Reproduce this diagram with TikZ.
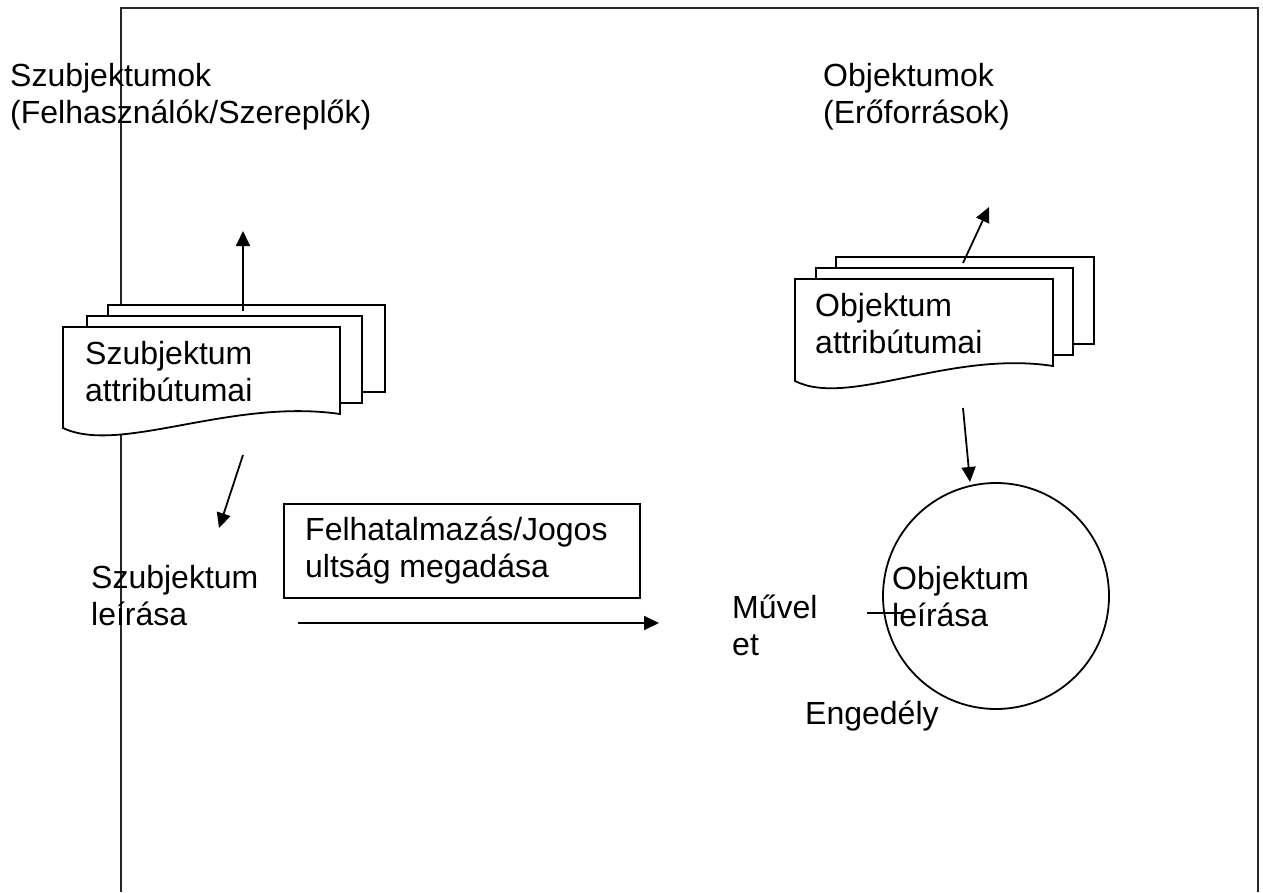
\documentclass[tikz,border=0pt]{standalone}
\usepackage{fontspec}
\setmainfont{Liberation Sans}
\usetikzlibrary{arrows.meta}
\begin{document}
\begin{tikzpicture}[x=1pt,y=-1pt,
  % two-line labels are placed by the baseline of their last line
  lbl/.style={inner sep=0pt, anchor=base west, align=left, font=\fontsize{32}{37}\selectfont},
  line/.style={line width=1.8pt, black},
  flow/.style={line, -{Triangle[length=15pt,width=14pt]}},
  page/.style={line, fill=white},
  frameline/.style={line width=1.9pt, black!85},
]
\useasboundingbox (0,0) rectangle (1263,892);

% open frame around the drawing area
\draw[frameline] (121,892) -- (121,8) -- (1258,8) -- (1258,892);

% column headings
\node[lbl] (subjTitle) at (10,123) {Szubjektumok\\(Felhasználók/Szereplők)};
\node[lbl] (objTitle) at (823,123) {Objektumok\\(Erőforrások)};

% stacked documents: subject attributes
\draw[page] (108,305) rectangle (385,392);
\draw[page] (87,316) rectangle (362,403);
\draw[page] (63,327) -- (340,327) -- (340,414)
  .. controls (230,398) and (120,455) .. (63,428) -- cycle;
\node[lbl] (subjAttr) at (85,401) {Szubjektum\\attribútumai};

% stacked documents: object attributes
\draw[page] (836,257) rectangle (1094,344);
\draw[page] (816,268) rectangle (1073,355);
\draw[page] (795,279) -- (1053,279) -- (1053,366)
  .. controls (950,350) and (848,408) .. (795,381) -- cycle;
\node[lbl] (objAttr) at (815,353) {Objektum\\attribútumai};

% arrow end points
\coordinate (subjUpFrom) at (243,311);
\coordinate (subjUpTo) at (243,231);
\coordinate (objUpFrom) at (963,263);
\coordinate (objUpTo) at (989,207);
\coordinate (subjDownFrom) at (243,455);
\coordinate (subjDownTo) at (219,528);
\coordinate (objDownFrom) at (963,408);
\coordinate (objDownTo) at (970,482);
\coordinate (grantFrom) at (298,623);
\coordinate (grantTo) at (659,623);
\coordinate (opFrom) at (867,613);
\coordinate (opTo) at (903,613);

\draw[flow] (subjUpFrom) -- (subjUpTo);
\draw[flow] (objUpFrom) -- (objUpTo);
\draw[flow] (subjDownFrom) -- (subjDownTo);
\draw[flow] (objDownFrom) -- (objDownTo);

% subject description
\node[lbl] (subjDesc) at (91,625) {Szubjektum\\leírása};

% authorisation box and arrow
\node[draw, line, anchor=north west, minimum width=356pt, minimum height=94pt, inner sep=0pt] (authBox) at (283,503) {};
\node[lbl] (authText) at (305,577) {Felhatalmazás/Jogos\\ultság megadása};
\draw[flow] (grantFrom) -- (grantTo);

% object description circle
\node[draw, line, circle, minimum size=226pt, inner sep=0pt] (objCircle) at (996,596) {};
\node[lbl] (objDesc) at (892,626) {Objektum\\leírása};
\node[lbl] (opText) at (732,655) {Művel\\et};
\draw[line] (opFrom) -- (opTo);
\node[lbl] (permText) at (805,724) {Engedély};
\end{tikzpicture}
\end{document}
